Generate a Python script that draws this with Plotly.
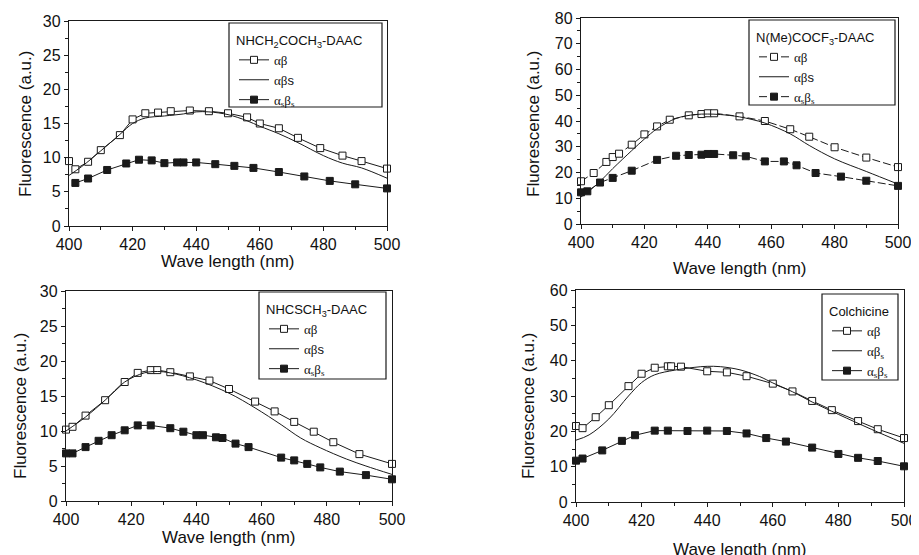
import plotly.graph_objects as go

# body of the page has an 8px default margin, so the figure is drawn 8px smaller
OFF = 8
W, H = 919 - OFF, 555 - OFF

# ---------------- data ----------------
p1_ab_x = [400, 402, 406, 410, 416, 420, 424, 428, 432, 438, 444, 450, 456, 460, 466, 472, 479, 486, 492, 500]
p1_ab_y = [9.5, 8.3, 9.4, 11.1, 13.3, 15.6, 16.5, 16.6, 16.8, 16.9, 16.8, 16.5, 15.9, 15.0, 14.3, 12.9, 11.4, 10.3, 9.5, 8.4]
p1_abs_x = [400, 404, 410, 416, 420, 424, 430, 436, 440, 444, 450, 456, 460, 466, 472, 480, 486, 492, 500]
p1_abs_y = [7.4, 8.7, 11.0, 13.4, 15.0, 15.8, 16.1, 16.4, 16.7, 16.7, 16.3, 15.4, 14.6, 13.5, 12.2, 10.3, 9.2, 8.5, 7.0]
p1_asbs_x = [402, 406, 412, 418, 422, 426, 430, 434, 436, 440, 446, 452, 458, 466, 474, 482, 490, 500]
p1_asbs_y = [6.3, 6.95, 8.2, 9.15, 9.7, 9.6, 9.2, 9.3, 9.3, 9.3, 9.05, 8.8, 8.5, 7.9, 7.25, 6.6, 6.1, 5.5]

p2_ab_x = [400, 404, 408, 410, 412, 416, 420, 424, 428, 434, 438, 440, 442, 450, 458, 466, 472, 480, 490, 500]
p2_ab_y = [16.6, 19.8, 24.1, 26.0, 27.3, 30.8, 34.8, 37.9, 40.5, 42.2, 42.7, 43.0, 43.0, 41.8, 40.0, 36.8, 33.9, 29.8, 25.8, 22.1]
p2_abs_x = [400, 402, 406, 410, 416, 420, 424, 430, 436, 440, 444, 450, 458, 466, 472, 480, 490, 500]
p2_abs_y = [10.5, 12.3, 16.5, 21.5, 28.5, 33.0, 37.0, 41.0, 42.5, 42.7, 42.5, 41.6, 39.2, 35.0, 30.5, 25.3, 20.4, 15.5]
p2_asbs_x = [400, 402, 406, 410, 416, 424, 430, 434, 438, 440, 442, 448, 452, 458, 464, 468, 474, 482, 490, 500]
p2_asbs_y = [12.3, 12.7, 16.1, 17.9, 20.7, 24.9, 26.5, 26.8, 26.9, 27.2, 27.2, 26.7, 26.3, 24.3, 24.3, 22.8, 19.8, 18.4, 16.8, 14.8]

p3_ab_x = [400, 402, 406, 412, 418, 422, 426, 428, 432, 438, 444, 450, 458, 464, 470, 476, 482, 490, 500]
p3_ab_y = [10.2, 10.6, 12.2, 14.4, 17.0, 18.3, 18.7, 18.7, 18.4, 17.8, 17.2, 16.0, 14.2, 12.8, 11.3, 9.9, 8.4, 6.7, 5.3]
p3_abs_x = [400, 406, 412, 418, 424, 428, 432, 440, 450, 458, 466, 472, 478, 486, 492, 500]
p3_abs_y = [10.0, 12.0, 14.4, 17.0, 18.3, 18.5, 18.3, 17.3, 15.4, 13.3, 10.9, 9.0, 7.6, 6.0, 5.0, 3.8]
p3_asbs_x = [400, 402, 406, 410, 414, 418, 422, 426, 432, 436, 440, 442, 446, 448, 452, 456, 466, 470, 474, 478, 484, 492, 500]
p3_asbs_y = [6.8, 6.8, 7.7, 8.6, 9.4, 10.1, 10.8, 10.8, 10.4, 9.9, 9.4, 9.4, 9.1, 9.0, 8.2, 7.7, 6.2, 5.8, 5.3, 4.8, 4.2, 3.7, 3.1]

p4_ab_x = [400, 402, 406, 410, 416, 420, 424, 428, 429, 432, 440, 446, 452, 460, 466, 472, 478, 486, 492, 500]
p4_ab_y = [21.5, 20.9, 24.0, 27.4, 32.8, 36.3, 38.0, 38.4, 38.4, 38.3, 37.0, 36.7, 35.6, 33.5, 31.3, 28.6, 26.0, 22.9, 20.6, 18.1]
p4_abs_x = [400, 404, 410, 416, 420, 424, 430, 436, 440, 444, 450, 456, 460, 466, 472, 480, 490, 500]
p4_abs_y = [17.5, 19.0, 23.5, 30.0, 33.8, 36.0, 37.3, 38.1, 38.4, 38.3, 37.4, 35.5, 33.7, 31.2, 28.3, 24.8, 20.6, 16.6]
p4_asbs_x = [400, 402, 408, 414, 418, 424, 428, 434, 440, 446, 452, 458, 464, 472, 480, 486, 492, 500]
p4_asbs_y = [11.7, 12.3, 14.6, 17.3, 18.9, 20.2, 20.2, 20.1, 20.2, 20.1, 19.4, 18.1, 17.1, 15.4, 13.6, 12.5, 11.6, 10.1]

titles = ["NHCH<sub>2</sub>COCH<sub>3</sub>-DAAC", "N(Me)COCF<sub>3</sub>-DAAC",
          "NHCSCH<sub>3</sub>-DAAC", "Colchicine"]
y_ranges = [30, 80, 30, 60]
y_dticks = [5, 10, 5, 10]

SERIF = "Liberation Serif"
SANS = "Liberation Sans"
TXT = "#111111"
sty = f"font-family:{SERIF};color:{TXT}"
lab_ab = f"<span style='{sty}'>αβ</span>"
lab_abs = f"<span style='{sty}'>αβ</span>s"
lab_abs_sub = f"<span style='{sty}'>αβ<sub>s</sub></span>"
lab_asbs = f"<span style='{sty}'>α<sub>s</sub>β<sub>s</sub></span>"
mid_labels = [lab_abs, lab_abs, lab_abs, lab_abs_sub]

# ---------------- layout geometry (window pixels) ----------------
plot_px = [(69, 387, 21, 226), (581, 898, 18, 224), (66, 392, 291, 501), (576, 904, 290, 502)]
legend_box = [(229, 382, 23, 107), (749, 895, 20, 105), (259, 386, 292, 379), (822, 898, 294, 380)]
xtitle_y = [261, 268, 537, 549]
ytitle_x = [25, 533, 20, 528]
ytitle_y = [124, 124, 406, 406]

def px(x):
    return (x - OFF) / W

def py(y):
    return 1 - (y - OFF) / H

data = [
    (p1_ab_x, p1_ab_y, p1_abs_x, p1_abs_y, p1_asbs_x, p1_asbs_y),
    (p2_ab_x, p2_ab_y, p2_abs_x, p2_abs_y, p2_asbs_x, p2_asbs_y),
    (p3_ab_x, p3_ab_y, p3_abs_x, p3_abs_y, p3_asbs_x, p3_asbs_y),
    (p4_ab_x, p4_ab_y, p4_abs_x, p4_abs_y, p4_asbs_x, p4_asbs_y),
]

fig = go.Figure()
LC = "#1a1a1a"
layout = dict(width=W, height=H, margin=dict(l=0, r=0, t=0, b=0),
              template="none",
              plot_bgcolor="white", paper_bgcolor="white",
              font=dict(family=SANS, color=TXT, size=16))
shapes, annotations = [], []

for i, (abx, aby, sx, sy, bx, by) in enumerate(data):
    k = "" if i == 0 else str(i + 1)
    xa, ya = "x" + k, "y" + k
    leg = "legend" + k
    dash = "solid" if i != 1 else "8px,3px"
    fig.add_trace(go.Scatter(x=abx, y=aby, xaxis=xa, yaxis=ya, mode="lines+markers", name=lab_ab,
                             legend=leg, cliponaxis=False,
                             line=dict(color=LC, width=1, dash=dash),
                             marker=dict(symbol="square", size=7, color="white",
                                         line=dict(color=LC, width=1))))
    fig.add_trace(go.Scatter(x=sx, y=sy, xaxis=xa, yaxis=ya, mode="lines", name=mid_labels[i],
                             legend=leg, line=dict(color=LC, width=1, shape="spline")))
    fig.add_trace(go.Scatter(x=bx, y=by, xaxis=xa, yaxis=ya, mode="lines+markers", name=lab_asbs,
                             legend=leg, cliponaxis=False,
                             line=dict(color=LC, width=1, dash=dash),
                             marker=dict(symbol="square", size=7, color=LC,
                                         line=dict(color=LC, width=1))))
    x0, x1, y0, y1 = plot_px[i]
    axcommon = dict(showline=True, linecolor=LC, linewidth=1.4, mirror=True,
                    ticks="outside", ticklen=4, tickwidth=1, tickcolor=LC,
                    showgrid=False, zeroline=False, automargin=False,
                    tickfont=dict(size=16, family=SANS, color=TXT))
    layout["xaxis" + k] = dict(domain=[px(x0), px(x1)], range=[400, 500], dtick=20, anchor=ya,
                               minor=dict(dtick=10, ticks="outside", ticklen=3, tickcolor=LC,
                                          showgrid=False),
                               **axcommon)
    layout["yaxis" + k] = dict(domain=[py(y1), py(y0)], range=[0, y_ranges[i]], dtick=y_dticks[i],
                               anchor=xa,
                               minor=dict(dtick=y_dticks[i] / 2, ticks="outside", ticklen=3,
                                          tickcolor=LC, showgrid=False),
                               **axcommon)
    lx0, lx1, ly0, ly1 = legend_box[i]
    shapes.append(dict(type="rect", xref="paper", yref="paper", x0=px(lx0), x1=px(lx1),
                       y0=py(ly1), y1=py(ly0), line=dict(color=LC, width=1.2)))
    layout[leg] = dict(x=px(lx0 + 5), y=py(ly0 + 5), xanchor="left", yanchor="top",
                       bgcolor="rgba(0,0,0,0)", borderwidth=0,
                       font=dict(size=13, family=SANS, color=TXT),
                       title=dict(text=titles[i], font=dict(size=13, family=SANS, color=TXT),
                                  side="top"),
                       itemwidth=30, tracegroupgap=0)
    annotations.append(dict(text="Wave length (nm)", xref="paper", yref="paper",
                            x=px((x0 + x1) / 2), y=py(xtitle_y[i]), xanchor="center",
                            yanchor="middle", showarrow=False,
                            font=dict(size=17, family=SANS, color=TXT)))
    annotations.append(dict(text="Fluorescence (a.u.)", xref="paper", yref="paper",
                            x=px(ytitle_x[i]), y=py(ytitle_y[i]), xanchor="center",
                            yanchor="middle", textangle=-90, showarrow=False,
                            font=dict(size=17, family=SANS, color=TXT)))

layout["shapes"] = shapes
layout["annotations"] = annotations
layout["showlegend"] = True
fig.update_layout(**layout)
fig.write_html("out.html")
